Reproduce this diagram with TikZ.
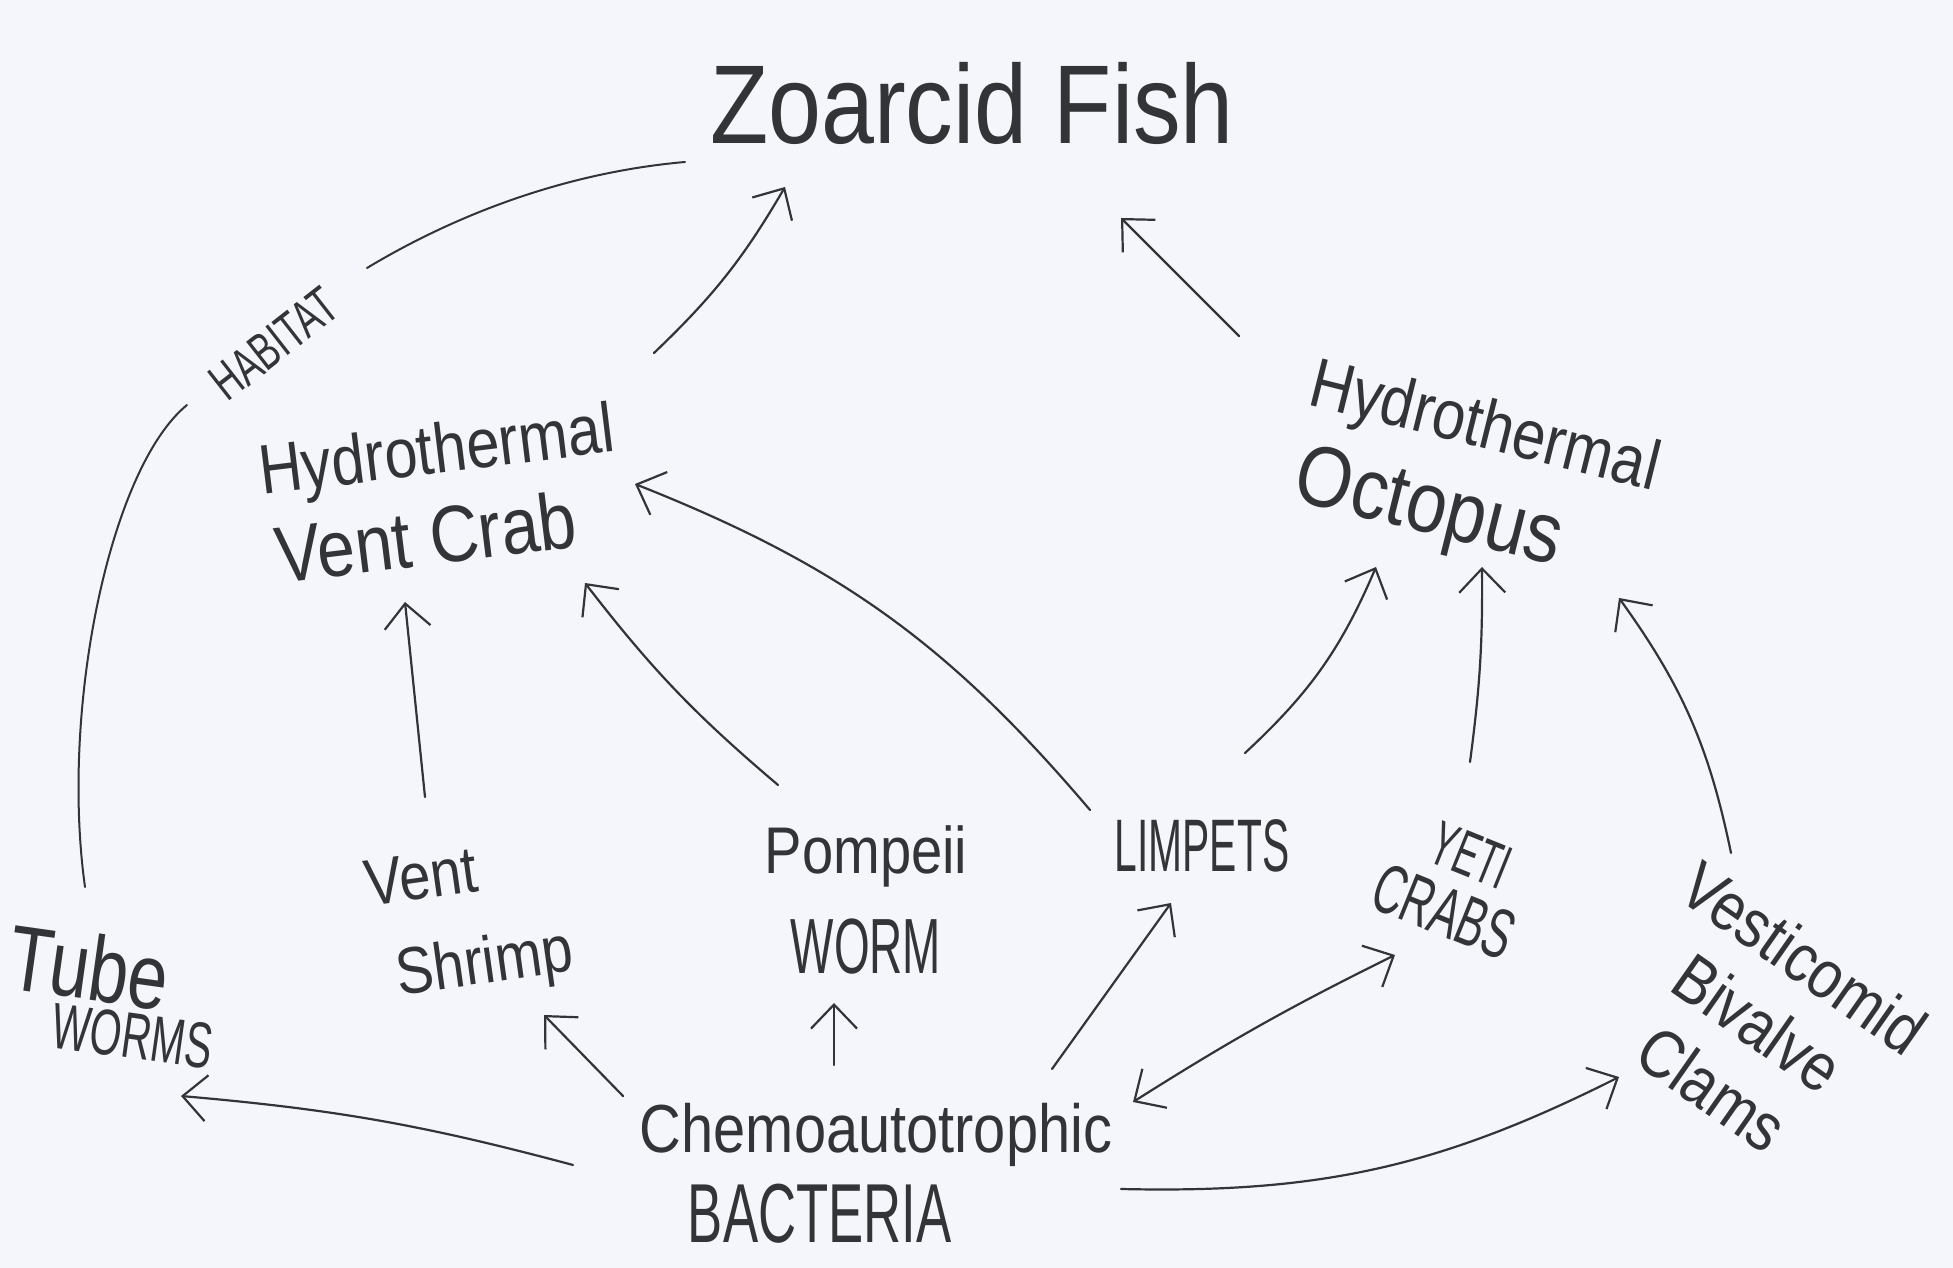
\documentclass[tikz,border=0pt]{standalone}
\usepackage{fontspec}
\usepackage{graphicx}
\setmainfont{Liberation Sans}[FakeStretch=0.85]
\usetikzlibrary{arrows.meta}
\definecolor{ink}{HTML}{333438}
\definecolor{paper}{HTML}{F5F6FB}
\newcommand{\fs}[2]{\fontsize{#1}{#2}\selectfont}
\newcommand{\tall}[2]{\scalebox{1}[#1]{#2}}
\begin{document}
\begin{tikzpicture}[x=1pt,y=1pt,
  lbl/.style={text=ink, align=center, inner sep=0pt},
  arr/.style={draw=ink, line width=2.2pt, line cap=round, -{Straight Barb[length=24pt,width=46pt,line width=2.2pt]}},
  darr/.style={draw=ink, line width=2.2pt, line cap=round, {Straight Barb[length=24pt,width=46pt,line width=2.2pt]}-{Straight Barb[length=24pt,width=46pt,line width=2.2pt]}},
  plain/.style={draw=ink, line width=2pt, line cap=round}]
\useasboundingbox[fill=paper] (0,0) rectangle (1953,1268);

% nodes
\node[lbl, font=\fs{112}{120}] (zf) at (972,1165) {Zoarcid Fish};
\node[lbl, align=left, rotate=7, font=\fs{70}{90}] (hvc) at (442,775) {Hydrothermal\\\hspace*{6pt}\fs{80}{90}Vent Crab};
\node[lbl, align=left, rotate=-14, font=\fs{70}{96}] (hoc) at (1472,790) {Hydrothermal\\\hspace*{8pt}\fs{86}{96}Octopus};
\node[lbl, align=left, rotate=-8, font=\fs{84}{52}] (tw) at (112,272) {\tall{1.1}{Tube}\\\hspace*{52pt}\fs{48}{52}\tall{1.35}{WORMS}};
\node[lbl, align=left, rotate=8, font=\fs{66}{92}] (vs) at (470,345) {Vent\\\hspace*{18pt}Shrimp};
\node[lbl, font=\fs{66}{100}] (pw) at (866,368) {Pompeii\\\fs{54}{100}\tall{1.45}{WORM}};
\node[lbl, font=\fs{48}{48}] (lim) at (1202,422) {\tall{1.55}{LIMPETS}};
\node[lbl, rotate=-22, font=\fs{42}{64}] (yeti) at (1455,384) {\hspace*{8pt}\tall{1.5}{YETI}\\\fs{50}{64}\tall{1.4}{CRABS}};
\node[lbl, rotate=-35, font=\fs{68}{80}] (clams) at (1758,245) {Vesticomid\\Bivalve\\Clams};
\node[lbl, align=left, font=\fs{68}{90}] (bac) at (876,95) {Chemoautotrophic\\\hspace*{48pt}\fs{62}{90}\tall{1.35}{BACTERIA}};
\node[lbl, rotate=38, font=\fs{42}{40}] (hab) at (274,924) {\tall{1.25}{HABITAT}};

% habitat line
\draw[plain] ([shift={(-27,109)}]tw.center) .. controls (60,560) and (110,800) .. ([shift={(-87,-61)}]hab.center);
\draw[plain] ([shift={(93,76)}]hab.center) .. controls (450,1050) and (560,1095) .. ([shift={(-287,-59)}]zf.center);

% arrows
\draw[arr] ([shift={(212,140)}]hvc.center) to[bend right=8] ([shift={(-187,-84)}]zf.center);
\draw[arr] ([shift={(-233,142)}]hoc.center) -- ([shift={(149,-115)}]zf.center);
\draw[arr] ([shift={(-45,126)}]vs.center) -- ([shift={(-37,-109)}]hvc.center);
\draw[arr] ([shift={(-88,115)}]pw.center) to[bend left=6] ([shift={(143,-90)}]hvc.center);
\draw[arr] ([shift={(-112,36)}]lim.center) to[bend right=14] ([shift={(193,9)}]hvc.center);
\draw[arr] ([shift={(43,93)}]lim.center) to[bend right=12] ([shift={(-96,-89)}]hoc.center);
\draw[arr] ([shift={(15,122)}]yeti.center) to[bend right=4] ([shift={(10,-89)}]hoc.center);
\draw[arr] ([shift={(-27,170)}]clams.center) to[bend right=12] ([shift={(147,-120)}]hoc.center);
\draw[arr] ([shift={(-303,8)}]bac.center) to[bend right=5] ([shift={(69,-100)}]tw.center);
\draw[arr] ([shift={(-253,77)}]bac.center) -- ([shift={(74,-92)}]vs.center);
\draw[arr] ([shift={(-42,108)}]bac.center) -- ([shift={(-32,-103)}]pw.center);
\draw[arr] ([shift={(176,104)}]bac.center) -- ([shift={(-31,-57)}]lim.center);
\draw[darr] ([shift={(257,71)}]bac.center) to[bend left=3] ([shift={(-60,-71)}]yeti.center);
\draw[arr] ([shift={(245,-16)}]bac.center) to[bend right=14] ([shift={(-139,-54)}]clams.center);
\end{tikzpicture}
\end{document}
